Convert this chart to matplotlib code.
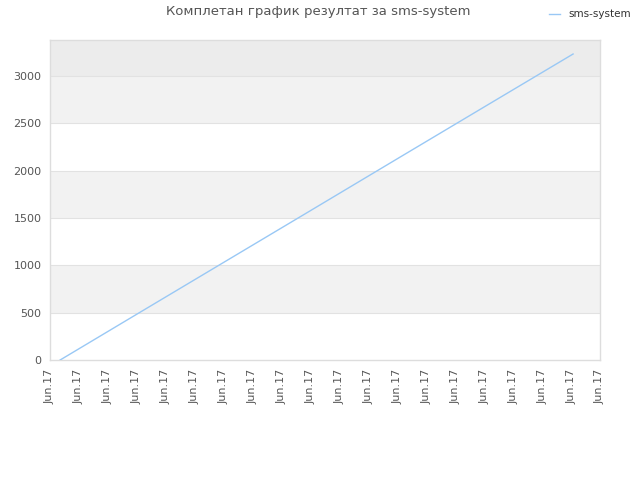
import numpy as np
import matplotlib.pyplot as plt

# data (x in tick units, y = score)
x_vals = [0.35, 3.0, 6.0, 9.0, 12.0, 15.0, 18.07]
y_vals = [0, 484, 1031, 1578, 2126, 2673, 3232]
tick_labels = ["Jun.17"] * 20
series_name = "sms-system"
title = "Комплетан график резултат за sms-system"

fig = plt.figure(figsize=(6.4, 4.8), dpi=100)
ax = fig.add_axes([50 / 640, 120 / 480, 550 / 640, 320 / 480])

ymax = 3380
# alternating bands
bands = [(0, 500, "white"), (500, 1000, "#f2f2f2"), (1000, 1500, "white"),
         (1500, 2000, "#f2f2f2"), (2000, 2500, "white"), (2500, 3000, "#f2f2f2"),
         (3000, ymax, "#ececec")]
for lo, hi, c in bands:
    ax.axhspan(lo, hi, color=c, zorder=0, lw=0)
for y in range(500, 3001, 500):
    ax.axhline(y, color="#e2e2e2", lw=0.8, zorder=1)

ax.plot(x_vals, y_vals, color="#99c8f5", lw=1, zorder=3, label=series_name)

ax.set_xlim(0, 19)
ax.set_ylim(0, ymax)
ax.set_xticks(np.arange(20))
ax.set_xticklabels(tick_labels, rotation=90, fontsize=8, color="#555555")
ax.set_yticks(np.arange(0, 3001, 500))
ax.set_yticklabels([str(v) for v in range(0, 3001, 500)], fontsize=8, color="#555555")
ax.tick_params(length=0, pad=6)
for s in ax.spines.values():
    s.set_color("#dddddd")
    s.set_linewidth(1)

fig.text(318 / 640, 1 - 12 / 480, title, ha="center", va="center",
         fontsize=9.5, color="#555555")
fig.legend(loc="upper right", bbox_to_anchor=(1.0, 1.0), frameon=False,
           fontsize=7.5, handlelength=1, handletextpad=0.8,
           labelcolor="#333333")

fig.savefig("out.png", dpi=100)
